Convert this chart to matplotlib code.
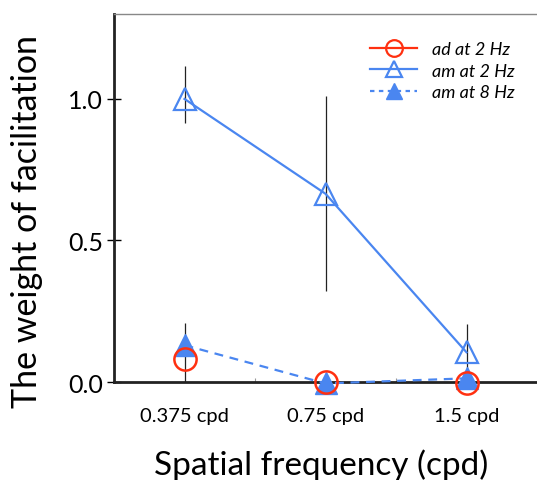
import matplotlib.pyplot as plt
from matplotlib.lines import Line2D

# spatial frequency conditions
categories = ["0.375 cpd", "0.75 cpd", "1.5 cpd"]

# weight of facilitation
am_2hz = [1.00, 0.665, 0.105]
am_2hz_lo = [0.085, 0.345, 0.105]
am_2hz_hi = [0.115, 0.345, 0.10]

am_8hz = [0.13, -0.005, 0.013]

ad_2hz = [0.08, 0.0, -0.003]
ad_2hz_lo = [0.08, 0.0, 0.0]
ad_2hz_hi = [0.13, 0.0, 0.0]

blue = "#4A86F0"
red = "#FF3010"

plt.rcParams["font.family"] = ["Lato", "DejaVu Sans"]

fig = plt.figure(figsize=(5.37, 4.81), dpi=100)
ax = fig.add_axes([0.2123, 0.2037, 0.7877, 0.7651])

x = list(range(len(categories)))

# error bars (thin black, no caps)
ax.errorbar(x, am_2hz, yerr=[am_2hz_lo, am_2hz_hi], fmt="none",
            ecolor="#222222", elinewidth=0.9, capsize=0, zorder=2)
ax.errorbar(x, ad_2hz, yerr=[ad_2hz_lo, ad_2hz_hi], fmt="none",
            ecolor="#222222", elinewidth=0.9, capsize=0, zorder=2)

ax.plot(x, am_2hz, color=blue, lw=1.6, marker="^", ms=16, mfc="none",
        mec=blue, mew=1.6, clip_on=False, zorder=3)
ax.plot(x, am_8hz, color=blue, lw=1.6, ls=(0, (4, 3)), marker="^", ms=16,
        mfc=blue, mec=blue, clip_on=False, zorder=4)
ax.plot(x, ad_2hz, ls="none", marker="o", ms=16, mfc="none", mec=red,
        mew=1.8, clip_on=False, zorder=5)

ax.set_xlim(-0.5, 2.5)
ax.set_ylim(0, 1.30)
ax.set_yticks([0.0, 0.5, 1.0])
ax.set_yticklabels(["0.0", "0.5", "1.0"])
ax.tick_params(axis="y", direction="inout", length=10, width=1,
               labelsize=18, pad=3)

ax.set_xticks([0.5, 1.5])
ax.set_xticklabels([])
ax.tick_params(axis="x", which="major", direction="in", length=3, width=0.8,
               color="#999999")
ax.set_xticks(x, minor=True)
ax.set_xticklabels(categories, minor=True)
ax.tick_params(axis="x", which="minor", length=0, labelsize=14.5, pad=18)

for side in ["left", "bottom"]:
    ax.spines[side].set_linewidth(2)
    ax.spines[side].set_color("#222222")
ax.spines["top"].set_linewidth(1)
ax.spines["top"].set_color("#888888")
ax.spines["right"].set_visible(False)

ax.set_xlabel("Spatial frequency (cpd)", fontsize=24)
ax.set_ylabel("The weight of facilitation", fontsize=24.5)
ax.xaxis.set_label_coords(0.49, -0.18)
ax.yaxis.set_label_coords(-0.168, 0.44)

handles = [
    Line2D([], [], color=red, lw=1.6, marker="o", ms=12, mfc="none",
           mec=red, mew=1.6),
    Line2D([], [], color=blue, lw=1.6, marker="^", ms=12, mfc="none",
           mec=blue, mew=1.6),
    Line2D([], [], color=blue, lw=1.6, ls=(0, (2, 2)), marker="^", ms=12,
           mfc=blue, mec=blue),
]
labels = ["ad at 2 Hz", "am at 2 Hz", "am at 8 Hz"]
leg = ax.legend(handles, labels, loc="upper right", frameon=False,
                prop={"style": "italic", "size": 13}, handlelength=2.6,
                labelspacing=0.3, bbox_to_anchor=(0.985, 0.97))

fig.savefig("out.png", dpi=100)
